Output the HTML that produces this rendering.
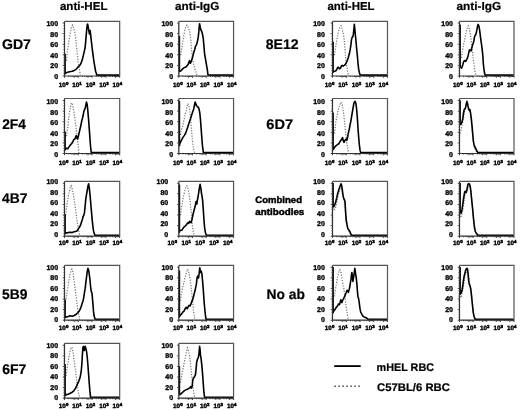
<!DOCTYPE html>
<html><head><meta charset="utf-8"><style>
html,body{margin:0;padding:0;background:#fff;}
svg{display:block;will-change:transform;}
text{font-family:'Liberation Sans',sans-serif;font-weight:bold;fill:#000;stroke:#000;stroke-width:0.2px;text-rendering:geometricPrecision;}
.yl{stroke-width:0.35px;}
.cb{stroke-width:0.45px;}
.yl{font-size:7px;text-anchor:end;}
.xl{font-size:6.3px;stroke-width:0.4px;}
.sup{font-size:4.4px;stroke-width:0.5px;}
</style></head><body>
<svg width="520" height="410" viewBox="0 0 520 410">
<rect width="520" height="410" fill="#fff"/>
<path d="M66.5,60.6 L67.4,51.0 L68.4,44.2 L69.5,37.4 L70.6,31.9 L71.5,27.1 L72.5,25.1 L73.6,27.8 L74.7,31.9 L75.6,37.4 L76.3,44.2 L77.0,51.0 L77.7,57.9 L78.3,63.3 L79.0,67.4 L79.7,71.5 L80.4,75.4 M180.7,55.1 L181.8,48.3 L182.8,41.5 L183.7,36.0 L184.8,30.6 L185.9,26.5 L186.9,25.1 L187.8,26.5 L188.9,29.2 L190.0,33.3 L190.7,38.8 L191.2,45.6 L191.7,51.0 L192.3,56.5 L193.0,62.0 L194.1,66.1 L195.1,70.2 L196.0,72.2 L197.1,75.4 M66.5,136.2 L67.4,129.4 L68.4,121.2 L69.2,114.4 L70.2,107.6 L71.1,103.5 L71.9,102.8 L72.9,106.2 L73.8,111.7 L74.7,117.1 L75.6,124.0 L76.3,129.4 L77.0,136.2 L77.7,141.7 L78.3,146.5 L79.0,152.9 M180.5,134.9 L181.4,130.1 L182.4,126.7 L183.5,121.9 L184.6,117.1 L185.5,113.0 L186.5,109.6 L187.3,105.5 L187.8,103.5 L188.7,104.8 L189.6,108.9 L190.3,115.8 L191.0,124.0 L191.7,132.1 L192.3,139.0 L193.0,145.1 L193.7,149.2 L194.7,152.9 M66.0,212.4 L67.0,204.2 L68.1,197.4 L69.2,191.9 L70.2,187.8 L71.1,185.8 L71.9,187.8 L72.9,191.9 L73.8,197.4 L74.7,202.8 L75.6,209.7 L76.3,215.1 L77.0,220.6 L77.7,224.7 L78.3,228.8 L79.0,232.2 L79.7,235.6 M180.5,215.1 L181.4,208.3 L182.4,202.8 L183.2,197.4 L184.2,193.3 L185.1,189.2 L186.2,186.5 L186.9,185.8 L187.8,187.8 L188.9,193.3 L190.0,200.1 L190.6,205.6 L191.2,212.4 L191.9,220.6 L192.6,227.4 L193.3,231.5 L194.1,235.6 M66.0,299.1 L67.0,292.3 L68.1,285.5 L69.2,278.7 L70.2,273.2 L71.1,270.5 L71.9,269.1 L72.9,271.8 L73.8,278.7 L74.7,285.5 L75.6,292.3 L76.3,297.8 L77.0,303.2 L77.7,308.7 L78.3,312.8 L79.0,316.2 L79.7,319.6 M180.5,300.5 L181.4,293.7 L182.8,286.8 L184.2,281.4 L185.5,275.9 L186.9,271.1 L187.8,269.1 L188.7,271.8 L189.6,275.9 L190.3,280.0 L191.0,285.5 L191.7,292.3 L192.3,299.1 L193.0,306.0 L193.7,312.1 L194.4,316.9 L195.1,319.6 M66.0,375.8 L67.0,368.9 L68.1,362.1 L69.2,355.3 L70.2,350.5 L71.1,347.8 L71.9,347.1 L72.9,351.2 L73.8,358.0 L74.7,364.8 L75.6,371.7 L76.3,377.1 L77.0,382.6 L77.7,388.1 L78.3,392.2 L79.0,394.9 L79.7,397.6 M180.5,382.6 L181.4,377.1 L182.4,371.7 L183.5,366.2 L184.6,360.8 L185.5,356.7 L186.5,351.2 L187.3,347.8 L188.2,349.8 L189.2,353.9 L190.0,359.4 L190.6,364.8 L191.2,370.3 L191.9,377.1 L192.6,384.0 L193.3,389.4 L194.0,394.2 L194.7,397.6 M334.5,55.1 L335.4,48.3 L336.4,42.8 L337.2,37.4 L338.1,33.3 L339.1,29.2 L340.2,26.5 L341.0,25.8 L341.8,27.8 L342.9,31.9 L344.0,37.4 L344.6,44.2 L345.1,51.0 L345.7,57.9 L346.3,63.3 L347.0,67.4 L347.7,71.5 L348.4,75.4 M461.5,57.9 L462.4,51.0 L463.4,45.6 L464.5,40.1 L465.6,34.7 L466.5,30.6 L467.5,27.1 L468.3,25.8 L469.2,28.5 L470.2,33.3 L471.0,38.8 L471.7,44.2 L472.4,51.0 L473.1,57.9 L473.8,63.3 L474.4,68.1 L475.1,71.5 L476.1,75.4 M334.5,133.5 L335.4,125.3 L336.4,118.5 L337.5,113.0 L338.6,108.9 L339.5,105.5 L340.5,103.5 L341.3,102.1 L342.2,104.2 L342.9,108.9 L343.6,113.0 L344.3,119.8 L345.0,126.7 L345.7,133.5 L346.3,139.0 L347.0,144.4 L347.7,148.5 L348.7,152.9 M460.1,133.5 L460.6,132.1 L461.5,128.1 L462.4,124.0 L463.4,118.5 L464.5,111.7 L465.6,106.9 L466.5,103.5 L467.2,102.8 L468.3,106.2 L469.2,110.3 L470.2,113.0 L471.0,118.5 L472.0,128.1 L472.7,136.2 L473.3,143.1 L474.0,146.5 L474.7,148.5 L475.7,150.6 L476.8,152.9 M333.1,208.3 L333.6,210.4 L334.5,209.7 L335.4,208.3 L336.4,204.2 L337.5,198.8 L338.6,194.0 L339.5,189.9 L340.5,187.2 L341.3,186.5 L342.2,190.6 L343.2,196.0 L344.0,200.1 L344.8,204.2 L345.4,211.1 L346.1,219.2 L346.8,224.7 L347.7,228.8 L348.7,230.9 L349.8,232.6 L350.9,235.6 M460.1,213.8 L460.6,216.5 L461.5,215.8 L462.4,212.4 L463.4,205.6 L464.2,200.1 L465.1,194.7 L466.1,193.3 L466.9,190.6 L467.9,187.2 L468.8,185.8 L469.9,186.5 L470.8,190.6 L471.6,197.4 L472.2,204.2 L472.9,212.4 L473.8,220.6 L474.4,227.4 L475.4,231.5 L476.5,233.6 L477.9,235.6 M334.5,296.4 L335.4,289.6 L336.4,284.1 L337.2,278.7 L338.1,274.6 L339.1,271.1 L339.9,269.8 L340.9,271.8 L341.8,277.3 L342.9,284.1 L344.0,289.6 L344.7,295.0 L345.4,300.5 L346.1,306.0 L346.8,311.4 L347.4,314.8 L348.4,319.6 M460.1,296.4 L460.6,297.8 L461.5,296.4 L462.4,292.3 L463.4,286.8 L464.2,281.4 L465.1,275.9 L466.1,272.5 L466.9,270.5 L467.7,271.1 L468.6,275.9 L469.4,281.4 L470.2,285.5 L471.0,289.6 L471.7,296.4 L472.4,303.2 L473.1,310.1 L473.8,314.2 L474.6,316.9 L475.7,319.6" fill="none" stroke="#707070" stroke-width="1.2" stroke-dasharray="1.2 1.5"/>
<path d="M65.1,53.8 L65.1,73.6 L65.1,73.6 L66.7,72.6 L69.5,71.8 L72.2,71.3 L74.2,70.4 L76.3,69.1 L77.7,67.4 L79.0,66.1 L80.4,64.4 L81.5,62.0 L82.4,59.2 L83.4,55.1 L84.5,50.4 L85.2,47.0 L85.8,40.1 L86.5,31.9 L87.2,25.1 L87.6,24.0 L88.3,27.1 L89.0,31.9 L89.5,34.0 L90.2,30.6 L90.9,37.4 L91.7,44.2 L92.7,52.4 L93.8,60.6 L94.7,66.1 L95.7,71.5 L96.8,75.1 L119.4,75.1 M179.4,36.0 L179.4,70.8 L179.4,70.8 L179.6,71.5 L181.0,70.8 L182.1,69.5 L183.5,68.1 L184.8,67.4 L186.2,66.8 L187.3,65.4 L188.2,64.4 L188.9,62.0 L189.6,60.6 L190.3,63.3 L191.0,62.0 L191.7,59.9 L192.8,56.5 L193.7,52.4 L194.7,49.7 L195.5,46.3 L196.4,44.9 L197.4,41.5 L198.2,37.4 L198.8,31.9 L199.2,26.5 L199.6,23.7 L200.3,27.8 L200.9,29.9 L201.9,31.9 L202.6,34.7 L203.3,38.8 L203.9,45.6 L204.6,53.8 L205.3,57.9 L206.0,62.0 L206.7,66.1 L207.4,70.2 L208.0,75.1 L233.3,75.1 M65.1,131.5 L65.1,149.9 L65.1,149.9 L65.6,148.8 L66.7,148.3 L67.8,148.8 L68.8,147.2 L70.2,145.1 L71.5,143.8 L72.9,141.7 L73.8,139.7 L74.9,139.0 L75.6,136.9 L76.3,135.6 L77.0,138.3 L77.7,139.0 L78.3,136.2 L79.3,132.1 L80.1,128.7 L80.9,125.3 L81.8,120.5 L82.4,118.5 L83.1,115.8 L83.8,111.7 L84.5,109.6 L85.2,108.2 L85.8,105.5 L86.5,102.1 L87.2,104.8 L87.9,111.7 L88.6,119.8 L89.3,129.4 L90.0,139.0 L90.6,147.2 L91.3,152.6 L119.4,152.6 M179.4,101.0 L179.4,145.8 L179.4,145.8 L180.0,143.1 L181.4,140.3 L182.8,137.6 L184.2,135.6 L185.5,133.5 L186.5,130.8 L187.6,127.4 L188.7,124.0 L189.6,121.2 L190.6,118.5 L191.4,115.8 L192.3,113.0 L193.0,111.0 L193.7,108.9 L194.4,105.5 L195.1,102.1 L195.8,103.5 L196.4,105.5 L197.1,106.2 L197.8,106.9 L198.5,107.6 L199.2,109.6 L199.8,113.0 L200.5,119.8 L201.2,129.4 L201.9,139.0 L202.6,147.2 L203.4,152.6 L233.3,152.6 M65.1,213.9 L65.1,233.6 L65.1,233.6 L66.0,232.9 L68.1,232.6 L70.2,232.2 L72.2,232.6 L74.2,231.8 L76.3,231.3 L77.7,230.2 L78.8,228.1 L79.7,226.8 L80.7,224.7 L81.5,222.0 L82.4,219.2 L83.1,216.5 L83.9,215.1 L84.5,212.4 L85.2,205.6 L85.8,198.8 L86.5,194.7 L87.2,190.6 L87.9,186.5 L88.6,183.7 L89.3,187.8 L90.0,194.7 L90.6,201.5 L91.3,209.7 L92.0,217.9 L92.7,224.7 L93.4,230.2 L94.0,232.9 L95.1,235.3 L119.4,235.3 M179.4,184.4 L179.4,232.2 L179.4,232.2 L179.4,230.9 L180.7,230.4 L182.1,229.9 L183.2,228.1 L184.2,226.8 L185.1,226.1 L185.9,225.4 L186.9,224.0 L187.8,222.7 L188.7,223.3 L189.6,221.3 L190.3,222.0 L191.0,222.7 L191.7,220.6 L192.3,217.9 L193.0,214.5 L193.7,211.7 L194.4,209.0 L195.1,206.3 L195.8,202.8 L196.2,201.5 L196.8,204.2 L197.4,200.1 L198.2,196.0 L198.8,191.9 L199.4,187.8 L200.1,184.4 L200.8,187.8 L201.5,193.3 L202.2,197.4 L202.6,200.1 L203.3,209.7 L203.9,219.2 L204.6,227.4 L205.3,232.2 L206.4,235.3 L233.3,235.3 M65.1,299.4 L65.1,317.6 L65.1,317.6 L66.0,316.9 L68.1,316.6 L70.2,315.8 L72.2,316.2 L74.2,315.5 L76.3,314.2 L77.7,312.8 L79.0,311.4 L80.1,309.4 L81.1,306.7 L82.0,303.9 L83.1,300.5 L83.8,297.1 L84.5,292.3 L85.2,288.2 L85.8,282.8 L86.5,277.3 L87.2,271.8 L87.9,268.4 L88.6,269.8 L89.3,274.6 L90.0,280.0 L90.6,286.8 L91.3,291.6 L92.0,293.0 L92.4,297.8 L93.0,304.6 L93.5,311.4 L94.0,315.5 L95.1,319.3 L119.4,319.3 M179.4,270.4 L179.4,316.9 L179.4,316.9 L180.0,315.5 L181.4,314.2 L182.8,312.1 L184.2,310.8 L185.1,308.7 L186.2,307.3 L187.3,308.7 L188.2,306.7 L189.2,305.3 L190.0,306.0 L190.7,304.6 L191.7,301.9 L192.8,299.1 L193.7,295.7 L194.4,293.0 L195.1,290.3 L195.8,286.8 L196.4,284.1 L196.8,280.0 L197.4,276.6 L198.1,275.9 L198.5,278.0 L199.2,273.2 L199.8,267.7 L200.5,272.5 L201.2,271.1 L201.9,273.9 L202.6,281.4 L203.3,289.6 L203.9,299.1 L204.6,307.3 L205.3,314.2 L206.0,319.3 L233.3,319.3 M65.1,364.0 L65.1,395.6 L65.1,395.6 L66.0,394.6 L68.1,394.2 L70.2,393.3 L72.2,392.2 L73.8,390.8 L75.2,388.8 L76.3,386.7 L77.2,384.7 L78.1,382.6 L79.0,380.6 L80.0,377.8 L80.7,374.4 L81.3,370.3 L81.8,364.8 L82.2,358.0 L82.6,351.2 L83.0,347.1 L83.5,346.4 L84.2,350.5 L84.8,347.1 L85.2,346.4 L85.8,348.5 L86.5,351.2 L87.2,356.7 L87.9,364.8 L88.6,374.4 L89.3,384.0 L90.0,392.2 L90.6,397.3 L119.4,397.3 M179.4,366.2 L179.4,393.5 L179.4,393.5 L180.0,394.6 L181.4,393.3 L182.8,392.2 L184.2,390.8 L185.5,390.1 L186.9,389.4 L188.2,388.8 L189.6,388.1 L190.6,386.7 L191.4,388.1 L192.1,386.7 L192.8,379.9 L193.7,377.8 L194.7,376.5 L195.5,374.4 L196.2,367.6 L196.7,362.1 L197.4,359.4 L198.1,358.0 L198.8,355.3 L199.2,351.2 L199.6,346.4 L200.1,349.8 L200.5,355.3 L201.2,359.4 L201.9,366.2 L202.6,374.4 L203.3,384.0 L203.9,392.2 L204.6,397.3 L233.3,397.3 M333.1,41.7 L333.1,72.2 L333.1,72.2 L333.6,71.5 L334.7,71.3 L335.8,70.8 L336.8,69.5 L337.7,67.4 L338.6,67.4 L339.5,68.8 L340.5,68.1 L341.3,66.1 L342.2,65.4 L343.2,66.1 L344.3,65.4 L345.4,64.4 L346.3,62.7 L347.3,60.6 L348.4,57.2 L349.3,53.8 L350.2,49.7 L350.9,44.9 L351.4,40.1 L352.1,37.4 L352.8,36.7 L353.3,34.7 L353.9,29.2 L354.3,24.4 L354.7,27.8 L355.2,33.3 L355.9,40.1 L356.6,48.3 L357.3,55.1 L357.9,62.0 L358.6,68.8 L359.3,72.2 L360.1,75.1 L387.2,75.1 M460.1,24.4 L460.1,66.8 L460.1,66.8 L460.6,67.4 L461.7,68.1 L462.8,64.7 L463.8,61.3 L464.7,60.6 L465.8,61.3 L466.5,59.9 L467.5,57.9 L468.3,55.1 L469.0,51.7 L469.6,49.7 L470.3,50.4 L471.0,51.0 L471.7,48.3 L472.4,45.6 L473.1,43.5 L473.8,41.5 L474.4,37.4 L475.1,35.3 L475.7,34.7 L476.3,32.6 L477.0,29.2 L477.6,25.8 L478.1,24.4 L478.8,25.8 L479.5,29.2 L480.2,34.7 L480.9,40.1 L481.5,44.2 L482.2,49.7 L482.9,56.5 L483.3,63.3 L483.9,68.8 L484.4,72.6 L485.2,75.1 L513.7,75.1 M333.1,112.5 L333.1,149.6 L333.1,149.6 L333.6,148.8 L334.7,147.2 L335.8,145.8 L336.8,145.1 L337.7,144.4 L338.8,143.8 L339.9,141.7 L340.9,140.3 L341.8,139.0 L342.6,137.6 L343.3,141.0 L344.0,142.4 L344.7,141.0 L345.4,139.7 L346.1,139.0 L346.8,140.3 L347.4,138.3 L348.1,134.2 L348.7,131.5 L349.5,128.1 L350.2,124.0 L350.9,121.2 L351.5,117.1 L352.2,113.0 L352.9,108.9 L353.6,104.8 L354.3,102.1 L355.2,101.4 L355.9,103.5 L356.6,108.9 L357.3,117.1 L357.9,126.7 L358.6,136.2 L359.3,144.4 L360.0,149.9 L360.7,152.6 L387.2,152.6 M460.1,100.5 L460.1,122.6 L460.1,122.6 L460.1,124.6 L461.1,124.0 L462.0,121.9 L462.8,118.5 L463.5,113.0 L464.2,109.6 L464.9,108.9 L465.6,107.6 L466.2,104.2 L466.9,101.4 L467.5,103.5 L468.0,106.2 L468.6,108.9 L469.2,110.3 L469.9,109.6 L470.6,113.0 L471.3,118.5 L472.0,125.3 L472.7,133.5 L473.3,140.3 L474.0,144.4 L474.7,146.5 L475.4,147.8 L476.1,149.2 L476.8,150.6 L477.9,152.6 L513.7,152.6 M333.1,182.9 L333.1,204.9 L333.1,204.9 L333.1,207.0 L334.1,206.3 L335.0,204.2 L335.8,201.5 L336.8,197.4 L337.7,193.3 L338.6,190.6 L339.5,187.8 L340.5,185.1 L341.0,183.7 L341.6,185.1 L342.2,189.2 L342.9,194.7 L343.6,198.1 L344.3,199.4 L345.0,201.5 L345.4,208.3 L345.8,215.1 L346.3,220.6 L347.0,224.7 L347.7,228.1 L348.4,229.5 L349.1,230.2 L349.8,231.5 L350.4,232.9 L351.4,235.3 L387.2,235.3 M460.1,182.9 L460.1,209.7 L460.1,209.7 L460.1,212.4 L461.1,213.1 L462.0,209.7 L462.8,204.2 L463.5,198.8 L464.2,194.7 L464.7,191.9 L465.4,191.2 L466.1,192.6 L466.8,190.6 L467.5,186.5 L468.0,184.4 L468.8,183.7 L469.6,184.4 L470.2,186.5 L470.8,190.6 L471.3,196.0 L472.0,202.8 L472.7,209.7 L473.3,216.5 L474.0,223.3 L474.7,228.8 L475.4,231.5 L476.5,233.6 L477.9,235.3 L513.7,235.3 M333.1,267.0 L333.1,312.8 L333.1,312.8 L333.4,311.4 L334.5,310.1 L335.4,308.7 L336.4,307.3 L337.5,306.0 L338.6,303.9 L339.5,304.6 L340.2,301.9 L340.9,299.8 L341.8,302.6 L342.6,300.5 L343.6,298.5 L344.3,297.1 L345.0,295.7 L345.7,293.7 L346.3,292.3 L347.0,290.3 L347.7,290.9 L348.4,292.3 L349.1,289.6 L349.8,286.8 L350.4,282.8 L351.1,278.7 L351.5,274.6 L351.9,272.5 L352.5,277.3 L352.9,281.4 L353.6,277.3 L354.3,272.5 L354.8,268.4 L355.5,273.2 L356.2,277.3 L356.9,284.1 L357.4,290.9 L357.9,296.4 L358.6,298.5 L359.3,303.2 L360.0,308.7 L360.7,312.1 L361.8,314.2 L362.7,315.8 L364.1,316.9 L366.1,317.7 L368.2,319.3 L387.2,319.3 M460.1,266.9 L460.1,292.3 L460.1,292.3 L460.1,294.4 L461.1,293.0 L462.0,290.3 L462.8,285.5 L463.5,280.0 L464.2,275.9 L464.9,273.2 L465.6,270.5 L466.2,269.1 L466.9,268.4 L467.5,269.1 L468.0,273.2 L468.6,280.0 L469.2,284.1 L469.9,285.5 L470.6,288.2 L471.3,293.7 L472.0,300.5 L472.7,307.3 L473.3,312.8 L474.0,316.2 L475.1,319.3 L513.7,319.3" fill="none" stroke="#000" stroke-width="1.6" stroke-linejoin="round"/>
<path d="M64.50,21.40 H119.70 V76.00 M178.85,21.40 H233.56 V76.00 M64.50,98.50 H119.70 V153.50 M178.85,98.50 H233.56 V153.50 M64.50,181.40 H119.70 V236.20 M178.85,181.40 H233.56 V236.20 M64.50,265.40 H119.70 V320.20 M178.85,265.40 H233.56 V320.20 M64.50,343.40 H119.70 V398.20 M178.85,343.40 H233.56 V398.20 M332.50,21.40 H387.50 V76.00 M459.50,21.40 H514.00 V76.00 M332.50,98.50 H387.50 V153.50 M459.50,98.50 H514.00 V153.50 M332.50,181.40 H387.50 V236.20 M459.50,181.40 H514.00 V236.20 M332.50,265.40 H387.50 V320.20 M459.50,265.40 H514.00 V320.20" fill="none" stroke="#555" stroke-width="1.2"/>
<path d="M64.50,21.40 V76.00 H119.70 M178.85,21.40 V76.00 H233.56 M64.50,98.50 V153.50 H119.70 M178.85,98.50 V153.50 H233.56 M64.50,181.40 V236.20 H119.70 M178.85,181.40 V236.20 H233.56 M64.50,265.40 V320.20 H119.70 M178.85,265.40 V320.20 H233.56 M64.50,343.40 V398.20 H119.70 M178.85,343.40 V398.20 H233.56 M332.50,21.40 V76.00 H387.50 M459.50,21.40 V76.00 H514.00 M332.50,98.50 V153.50 H387.50 M459.50,98.50 V153.50 H514.00 M332.50,181.40 V236.20 H387.50 M459.50,181.40 V236.20 H514.00 M332.50,265.40 V320.20 H387.50 M459.50,265.40 V320.20 H514.00" fill="none" stroke="#333" stroke-width="1.2"/>
<path d="M62.70,76.00 H64.50 M63.60,73.35 H64.50 M63.60,70.70 H64.50 M63.60,68.06 H64.50 M62.70,65.41 H64.50 M63.60,62.76 H64.50 M63.60,60.11 H64.50 M63.60,57.47 H64.50 M62.70,54.82 H64.50 M63.60,52.17 H64.50 M63.60,49.52 H64.50 M63.60,46.88 H64.50 M62.70,44.23 H64.50 M63.60,41.58 H64.50 M63.60,38.93 H64.50 M63.60,36.29 H64.50 M62.70,33.64 H64.50 M63.60,30.99 H64.50 M63.60,28.34 H64.50 M63.60,25.70 H64.50 M62.70,23.05 H64.50 M64.50,76.00 V77.80 M68.65,76.00 V77.00 M71.08,76.00 V77.00 M72.81,76.00 V77.00 M74.15,76.00 V77.80 M75.24,76.00 V77.00 M76.16,76.00 V77.00 M76.96,76.00 V77.00 M77.67,76.00 V77.00 M78.30,76.00 V77.80 M82.45,76.00 V77.00 M84.88,76.00 V77.00 M86.61,76.00 V77.00 M87.95,76.00 V77.80 M89.04,76.00 V77.00 M89.96,76.00 V77.00 M90.76,76.00 V77.00 M91.47,76.00 V77.00 M92.10,76.00 V77.80 M96.25,76.00 V77.00 M98.68,76.00 V77.00 M100.41,76.00 V77.00 M101.75,76.00 V77.80 M102.84,76.00 V77.00 M103.76,76.00 V77.00 M104.56,76.00 V77.00 M105.27,76.00 V77.00 M105.90,76.00 V77.80 M110.05,76.00 V77.00 M112.48,76.00 V77.00 M114.21,76.00 V77.00 M115.55,76.00 V77.80 M116.64,76.00 V77.00 M117.56,76.00 V77.00 M118.36,76.00 V77.00 M119.07,76.00 V77.00 M119.70,76.00 V77.80 M177.05,76.00 H178.85 M177.95,73.35 H178.85 M177.95,70.70 H178.85 M177.95,68.06 H178.85 M177.05,65.41 H178.85 M177.95,62.76 H178.85 M177.95,60.11 H178.85 M177.95,57.47 H178.85 M177.05,54.82 H178.85 M177.95,52.17 H178.85 M177.95,49.52 H178.85 M177.95,46.88 H178.85 M177.05,44.23 H178.85 M177.95,41.58 H178.85 M177.95,38.93 H178.85 M177.95,36.29 H178.85 M177.05,33.64 H178.85 M177.95,30.99 H178.85 M177.95,28.34 H178.85 M177.95,25.70 H178.85 M177.05,23.05 H178.85 M178.85,76.00 V77.80 M182.97,76.00 V77.00 M185.38,76.00 V77.00 M187.08,76.00 V77.00 M188.41,76.00 V77.80 M189.49,76.00 V77.00 M190.41,76.00 V77.00 M191.20,76.00 V77.00 M191.90,76.00 V77.00 M192.53,76.00 V77.80 M196.64,76.00 V77.00 M199.05,76.00 V77.00 M200.76,76.00 V77.00 M202.09,76.00 V77.80 M203.17,76.00 V77.00 M204.09,76.00 V77.00 M204.88,76.00 V77.00 M205.58,76.00 V77.00 M206.20,76.00 V77.80 M210.32,76.00 V77.00 M212.73,76.00 V77.00 M214.44,76.00 V77.00 M215.77,76.00 V77.80 M216.85,76.00 V77.00 M217.76,76.00 V77.00 M218.56,76.00 V77.00 M219.26,76.00 V77.00 M219.88,76.00 V77.80 M224.00,76.00 V77.00 M226.41,76.00 V77.00 M228.12,76.00 V77.00 M229.44,76.00 V77.80 M230.53,76.00 V77.00 M231.44,76.00 V77.00 M232.23,76.00 V77.00 M232.93,76.00 V77.00 M233.56,76.00 V77.80 M62.70,153.50 H64.50 M63.60,150.85 H64.50 M63.60,148.21 H64.50 M63.60,145.56 H64.50 M62.70,142.91 H64.50 M63.60,140.26 H64.50 M63.60,137.62 H64.50 M63.60,134.97 H64.50 M62.70,132.32 H64.50 M63.60,129.67 H64.50 M63.60,127.02 H64.50 M63.60,124.38 H64.50 M62.70,121.73 H64.50 M63.60,119.08 H64.50 M63.60,116.44 H64.50 M63.60,113.79 H64.50 M62.70,111.14 H64.50 M63.60,108.49 H64.50 M63.60,105.84 H64.50 M63.60,103.20 H64.50 M62.70,100.55 H64.50 M64.50,153.50 V155.30 M68.65,153.50 V154.50 M71.08,153.50 V154.50 M72.81,153.50 V154.50 M74.15,153.50 V155.30 M75.24,153.50 V154.50 M76.16,153.50 V154.50 M76.96,153.50 V154.50 M77.67,153.50 V154.50 M78.30,153.50 V155.30 M82.45,153.50 V154.50 M84.88,153.50 V154.50 M86.61,153.50 V154.50 M87.95,153.50 V155.30 M89.04,153.50 V154.50 M89.96,153.50 V154.50 M90.76,153.50 V154.50 M91.47,153.50 V154.50 M92.10,153.50 V155.30 M96.25,153.50 V154.50 M98.68,153.50 V154.50 M100.41,153.50 V154.50 M101.75,153.50 V155.30 M102.84,153.50 V154.50 M103.76,153.50 V154.50 M104.56,153.50 V154.50 M105.27,153.50 V154.50 M105.90,153.50 V155.30 M110.05,153.50 V154.50 M112.48,153.50 V154.50 M114.21,153.50 V154.50 M115.55,153.50 V155.30 M116.64,153.50 V154.50 M117.56,153.50 V154.50 M118.36,153.50 V154.50 M119.07,153.50 V154.50 M119.70,153.50 V155.30 M177.05,153.50 H178.85 M177.95,150.85 H178.85 M177.95,148.21 H178.85 M177.95,145.56 H178.85 M177.05,142.91 H178.85 M177.95,140.26 H178.85 M177.95,137.62 H178.85 M177.95,134.97 H178.85 M177.05,132.32 H178.85 M177.95,129.67 H178.85 M177.95,127.02 H178.85 M177.95,124.38 H178.85 M177.05,121.73 H178.85 M177.95,119.08 H178.85 M177.95,116.44 H178.85 M177.95,113.79 H178.85 M177.05,111.14 H178.85 M177.95,108.49 H178.85 M177.95,105.84 H178.85 M177.95,103.20 H178.85 M177.05,100.55 H178.85 M178.85,153.50 V155.30 M182.97,153.50 V154.50 M185.38,153.50 V154.50 M187.08,153.50 V154.50 M188.41,153.50 V155.30 M189.49,153.50 V154.50 M190.41,153.50 V154.50 M191.20,153.50 V154.50 M191.90,153.50 V154.50 M192.53,153.50 V155.30 M196.64,153.50 V154.50 M199.05,153.50 V154.50 M200.76,153.50 V154.50 M202.09,153.50 V155.30 M203.17,153.50 V154.50 M204.09,153.50 V154.50 M204.88,153.50 V154.50 M205.58,153.50 V154.50 M206.20,153.50 V155.30 M210.32,153.50 V154.50 M212.73,153.50 V154.50 M214.44,153.50 V154.50 M215.77,153.50 V155.30 M216.85,153.50 V154.50 M217.76,153.50 V154.50 M218.56,153.50 V154.50 M219.26,153.50 V154.50 M219.88,153.50 V155.30 M224.00,153.50 V154.50 M226.41,153.50 V154.50 M228.12,153.50 V154.50 M229.44,153.50 V155.30 M230.53,153.50 V154.50 M231.44,153.50 V154.50 M232.23,153.50 V154.50 M232.93,153.50 V154.50 M233.56,153.50 V155.30 M62.70,236.20 H64.50 M63.60,233.55 H64.50 M63.60,230.91 H64.50 M63.60,228.26 H64.50 M62.70,225.61 H64.50 M63.60,222.96 H64.50 M63.60,220.31 H64.50 M63.60,217.67 H64.50 M62.70,215.02 H64.50 M63.60,212.37 H64.50 M63.60,209.72 H64.50 M63.60,207.08 H64.50 M62.70,204.43 H64.50 M63.60,201.78 H64.50 M63.60,199.13 H64.50 M63.60,196.49 H64.50 M62.70,193.84 H64.50 M63.60,191.19 H64.50 M63.60,188.54 H64.50 M63.60,185.90 H64.50 M62.70,183.25 H64.50 M64.50,236.20 V238.00 M68.65,236.20 V237.20 M71.08,236.20 V237.20 M72.81,236.20 V237.20 M74.15,236.20 V238.00 M75.24,236.20 V237.20 M76.16,236.20 V237.20 M76.96,236.20 V237.20 M77.67,236.20 V237.20 M78.30,236.20 V238.00 M82.45,236.20 V237.20 M84.88,236.20 V237.20 M86.61,236.20 V237.20 M87.95,236.20 V238.00 M89.04,236.20 V237.20 M89.96,236.20 V237.20 M90.76,236.20 V237.20 M91.47,236.20 V237.20 M92.10,236.20 V238.00 M96.25,236.20 V237.20 M98.68,236.20 V237.20 M100.41,236.20 V237.20 M101.75,236.20 V238.00 M102.84,236.20 V237.20 M103.76,236.20 V237.20 M104.56,236.20 V237.20 M105.27,236.20 V237.20 M105.90,236.20 V238.00 M110.05,236.20 V237.20 M112.48,236.20 V237.20 M114.21,236.20 V237.20 M115.55,236.20 V238.00 M116.64,236.20 V237.20 M117.56,236.20 V237.20 M118.36,236.20 V237.20 M119.07,236.20 V237.20 M119.70,236.20 V238.00 M177.05,236.20 H178.85 M177.95,233.55 H178.85 M177.95,230.91 H178.85 M177.95,228.26 H178.85 M177.05,225.61 H178.85 M177.95,222.96 H178.85 M177.95,220.31 H178.85 M177.95,217.67 H178.85 M177.05,215.02 H178.85 M177.95,212.37 H178.85 M177.95,209.72 H178.85 M177.95,207.08 H178.85 M177.05,204.43 H178.85 M177.95,201.78 H178.85 M177.95,199.13 H178.85 M177.95,196.49 H178.85 M177.05,193.84 H178.85 M177.95,191.19 H178.85 M177.95,188.54 H178.85 M177.95,185.90 H178.85 M177.05,183.25 H178.85 M178.85,236.20 V238.00 M182.97,236.20 V237.20 M185.38,236.20 V237.20 M187.08,236.20 V237.20 M188.41,236.20 V238.00 M189.49,236.20 V237.20 M190.41,236.20 V237.20 M191.20,236.20 V237.20 M191.90,236.20 V237.20 M192.53,236.20 V238.00 M196.64,236.20 V237.20 M199.05,236.20 V237.20 M200.76,236.20 V237.20 M202.09,236.20 V238.00 M203.17,236.20 V237.20 M204.09,236.20 V237.20 M204.88,236.20 V237.20 M205.58,236.20 V237.20 M206.20,236.20 V238.00 M210.32,236.20 V237.20 M212.73,236.20 V237.20 M214.44,236.20 V237.20 M215.77,236.20 V238.00 M216.85,236.20 V237.20 M217.76,236.20 V237.20 M218.56,236.20 V237.20 M219.26,236.20 V237.20 M219.88,236.20 V238.00 M224.00,236.20 V237.20 M226.41,236.20 V237.20 M228.12,236.20 V237.20 M229.44,236.20 V238.00 M230.53,236.20 V237.20 M231.44,236.20 V237.20 M232.23,236.20 V237.20 M232.93,236.20 V237.20 M233.56,236.20 V238.00 M62.70,320.20 H64.50 M63.60,317.55 H64.50 M63.60,314.90 H64.50 M63.60,312.26 H64.50 M62.70,309.61 H64.50 M63.60,306.96 H64.50 M63.60,304.31 H64.50 M63.60,301.67 H64.50 M62.70,299.02 H64.50 M63.60,296.37 H64.50 M63.60,293.72 H64.50 M63.60,291.08 H64.50 M62.70,288.43 H64.50 M63.60,285.78 H64.50 M63.60,283.13 H64.50 M63.60,280.49 H64.50 M62.70,277.84 H64.50 M63.60,275.19 H64.50 M63.60,272.54 H64.50 M63.60,269.90 H64.50 M62.70,267.25 H64.50 M64.50,320.20 V322.00 M68.65,320.20 V321.20 M71.08,320.20 V321.20 M72.81,320.20 V321.20 M74.15,320.20 V322.00 M75.24,320.20 V321.20 M76.16,320.20 V321.20 M76.96,320.20 V321.20 M77.67,320.20 V321.20 M78.30,320.20 V322.00 M82.45,320.20 V321.20 M84.88,320.20 V321.20 M86.61,320.20 V321.20 M87.95,320.20 V322.00 M89.04,320.20 V321.20 M89.96,320.20 V321.20 M90.76,320.20 V321.20 M91.47,320.20 V321.20 M92.10,320.20 V322.00 M96.25,320.20 V321.20 M98.68,320.20 V321.20 M100.41,320.20 V321.20 M101.75,320.20 V322.00 M102.84,320.20 V321.20 M103.76,320.20 V321.20 M104.56,320.20 V321.20 M105.27,320.20 V321.20 M105.90,320.20 V322.00 M110.05,320.20 V321.20 M112.48,320.20 V321.20 M114.21,320.20 V321.20 M115.55,320.20 V322.00 M116.64,320.20 V321.20 M117.56,320.20 V321.20 M118.36,320.20 V321.20 M119.07,320.20 V321.20 M119.70,320.20 V322.00 M177.05,320.20 H178.85 M177.95,317.55 H178.85 M177.95,314.90 H178.85 M177.95,312.26 H178.85 M177.05,309.61 H178.85 M177.95,306.96 H178.85 M177.95,304.31 H178.85 M177.95,301.67 H178.85 M177.05,299.02 H178.85 M177.95,296.37 H178.85 M177.95,293.72 H178.85 M177.95,291.08 H178.85 M177.05,288.43 H178.85 M177.95,285.78 H178.85 M177.95,283.13 H178.85 M177.95,280.49 H178.85 M177.05,277.84 H178.85 M177.95,275.19 H178.85 M177.95,272.54 H178.85 M177.95,269.90 H178.85 M177.05,267.25 H178.85 M178.85,320.20 V322.00 M182.97,320.20 V321.20 M185.38,320.20 V321.20 M187.08,320.20 V321.20 M188.41,320.20 V322.00 M189.49,320.20 V321.20 M190.41,320.20 V321.20 M191.20,320.20 V321.20 M191.90,320.20 V321.20 M192.53,320.20 V322.00 M196.64,320.20 V321.20 M199.05,320.20 V321.20 M200.76,320.20 V321.20 M202.09,320.20 V322.00 M203.17,320.20 V321.20 M204.09,320.20 V321.20 M204.88,320.20 V321.20 M205.58,320.20 V321.20 M206.20,320.20 V322.00 M210.32,320.20 V321.20 M212.73,320.20 V321.20 M214.44,320.20 V321.20 M215.77,320.20 V322.00 M216.85,320.20 V321.20 M217.76,320.20 V321.20 M218.56,320.20 V321.20 M219.26,320.20 V321.20 M219.88,320.20 V322.00 M224.00,320.20 V321.20 M226.41,320.20 V321.20 M228.12,320.20 V321.20 M229.44,320.20 V322.00 M230.53,320.20 V321.20 M231.44,320.20 V321.20 M232.23,320.20 V321.20 M232.93,320.20 V321.20 M233.56,320.20 V322.00 M62.70,398.20 H64.50 M63.60,395.55 H64.50 M63.60,392.90 H64.50 M63.60,390.26 H64.50 M62.70,387.61 H64.50 M63.60,384.96 H64.50 M63.60,382.31 H64.50 M63.60,379.67 H64.50 M62.70,377.02 H64.50 M63.60,374.37 H64.50 M63.60,371.72 H64.50 M63.60,369.08 H64.50 M62.70,366.43 H64.50 M63.60,363.78 H64.50 M63.60,361.13 H64.50 M63.60,358.49 H64.50 M62.70,355.84 H64.50 M63.60,353.19 H64.50 M63.60,350.54 H64.50 M63.60,347.90 H64.50 M62.70,345.25 H64.50 M64.50,398.20 V400.00 M68.65,398.20 V399.20 M71.08,398.20 V399.20 M72.81,398.20 V399.20 M74.15,398.20 V400.00 M75.24,398.20 V399.20 M76.16,398.20 V399.20 M76.96,398.20 V399.20 M77.67,398.20 V399.20 M78.30,398.20 V400.00 M82.45,398.20 V399.20 M84.88,398.20 V399.20 M86.61,398.20 V399.20 M87.95,398.20 V400.00 M89.04,398.20 V399.20 M89.96,398.20 V399.20 M90.76,398.20 V399.20 M91.47,398.20 V399.20 M92.10,398.20 V400.00 M96.25,398.20 V399.20 M98.68,398.20 V399.20 M100.41,398.20 V399.20 M101.75,398.20 V400.00 M102.84,398.20 V399.20 M103.76,398.20 V399.20 M104.56,398.20 V399.20 M105.27,398.20 V399.20 M105.90,398.20 V400.00 M110.05,398.20 V399.20 M112.48,398.20 V399.20 M114.21,398.20 V399.20 M115.55,398.20 V400.00 M116.64,398.20 V399.20 M117.56,398.20 V399.20 M118.36,398.20 V399.20 M119.07,398.20 V399.20 M119.70,398.20 V400.00 M177.05,398.20 H178.85 M177.95,395.55 H178.85 M177.95,392.90 H178.85 M177.95,390.26 H178.85 M177.05,387.61 H178.85 M177.95,384.96 H178.85 M177.95,382.31 H178.85 M177.95,379.67 H178.85 M177.05,377.02 H178.85 M177.95,374.37 H178.85 M177.95,371.72 H178.85 M177.95,369.08 H178.85 M177.05,366.43 H178.85 M177.95,363.78 H178.85 M177.95,361.13 H178.85 M177.95,358.49 H178.85 M177.05,355.84 H178.85 M177.95,353.19 H178.85 M177.95,350.54 H178.85 M177.95,347.90 H178.85 M177.05,345.25 H178.85 M178.85,398.20 V400.00 M182.97,398.20 V399.20 M185.38,398.20 V399.20 M187.08,398.20 V399.20 M188.41,398.20 V400.00 M189.49,398.20 V399.20 M190.41,398.20 V399.20 M191.20,398.20 V399.20 M191.90,398.20 V399.20 M192.53,398.20 V400.00 M196.64,398.20 V399.20 M199.05,398.20 V399.20 M200.76,398.20 V399.20 M202.09,398.20 V400.00 M203.17,398.20 V399.20 M204.09,398.20 V399.20 M204.88,398.20 V399.20 M205.58,398.20 V399.20 M206.20,398.20 V400.00 M210.32,398.20 V399.20 M212.73,398.20 V399.20 M214.44,398.20 V399.20 M215.77,398.20 V400.00 M216.85,398.20 V399.20 M217.76,398.20 V399.20 M218.56,398.20 V399.20 M219.26,398.20 V399.20 M219.88,398.20 V400.00 M224.00,398.20 V399.20 M226.41,398.20 V399.20 M228.12,398.20 V399.20 M229.44,398.20 V400.00 M230.53,398.20 V399.20 M231.44,398.20 V399.20 M232.23,398.20 V399.20 M232.93,398.20 V399.20 M233.56,398.20 V400.00 M330.70,76.00 H332.50 M331.60,73.35 H332.50 M331.60,70.70 H332.50 M331.60,68.06 H332.50 M330.70,65.41 H332.50 M331.60,62.76 H332.50 M331.60,60.11 H332.50 M331.60,57.47 H332.50 M330.70,54.82 H332.50 M331.60,52.17 H332.50 M331.60,49.52 H332.50 M331.60,46.88 H332.50 M330.70,44.23 H332.50 M331.60,41.58 H332.50 M331.60,38.93 H332.50 M331.60,36.29 H332.50 M330.70,33.64 H332.50 M331.60,30.99 H332.50 M331.60,28.34 H332.50 M331.60,25.70 H332.50 M330.70,23.05 H332.50 M332.50,76.00 V77.80 M336.64,76.00 V77.00 M339.06,76.00 V77.00 M340.78,76.00 V77.00 M342.11,76.00 V77.80 M343.20,76.00 V77.00 M344.12,76.00 V77.00 M344.92,76.00 V77.00 M345.62,76.00 V77.00 M346.25,76.00 V77.80 M350.39,76.00 V77.00 M352.81,76.00 V77.00 M354.53,76.00 V77.00 M355.86,76.00 V77.80 M356.95,76.00 V77.00 M357.87,76.00 V77.00 M358.67,76.00 V77.00 M359.37,76.00 V77.00 M360.00,76.00 V77.80 M364.14,76.00 V77.00 M366.56,76.00 V77.00 M368.28,76.00 V77.00 M369.61,76.00 V77.80 M370.70,76.00 V77.00 M371.62,76.00 V77.00 M372.42,76.00 V77.00 M373.12,76.00 V77.00 M373.75,76.00 V77.80 M377.89,76.00 V77.00 M380.31,76.00 V77.00 M382.03,76.00 V77.00 M383.36,76.00 V77.80 M384.45,76.00 V77.00 M385.37,76.00 V77.00 M386.17,76.00 V77.00 M386.87,76.00 V77.00 M387.50,76.00 V77.80 M457.70,76.00 H459.50 M458.60,73.35 H459.50 M458.60,70.70 H459.50 M458.60,68.06 H459.50 M457.70,65.41 H459.50 M458.60,62.76 H459.50 M458.60,60.11 H459.50 M458.60,57.47 H459.50 M457.70,54.82 H459.50 M458.60,52.17 H459.50 M458.60,49.52 H459.50 M458.60,46.88 H459.50 M457.70,44.23 H459.50 M458.60,41.58 H459.50 M458.60,38.93 H459.50 M458.60,36.29 H459.50 M457.70,33.64 H459.50 M458.60,30.99 H459.50 M458.60,28.34 H459.50 M458.60,25.70 H459.50 M457.70,23.05 H459.50 M459.50,76.00 V77.80 M463.60,76.00 V77.00 M466.00,76.00 V77.00 M467.70,76.00 V77.00 M469.02,76.00 V77.80 M470.10,76.00 V77.00 M471.01,76.00 V77.00 M471.80,76.00 V77.00 M472.50,76.00 V77.00 M473.12,76.00 V77.80 M477.23,76.00 V77.00 M479.63,76.00 V77.00 M481.33,76.00 V77.00 M482.65,76.00 V77.80 M483.73,76.00 V77.00 M484.64,76.00 V77.00 M485.43,76.00 V77.00 M486.13,76.00 V77.00 M486.75,76.00 V77.80 M490.85,76.00 V77.00 M493.25,76.00 V77.00 M494.95,76.00 V77.00 M496.27,76.00 V77.80 M497.35,76.00 V77.00 M498.26,76.00 V77.00 M499.05,76.00 V77.00 M499.75,76.00 V77.00 M500.38,76.00 V77.80 M504.48,76.00 V77.00 M506.88,76.00 V77.00 M508.58,76.00 V77.00 M509.90,76.00 V77.80 M510.98,76.00 V77.00 M511.89,76.00 V77.00 M512.68,76.00 V77.00 M513.38,76.00 V77.00 M514.00,76.00 V77.80 M330.70,153.50 H332.50 M331.60,150.85 H332.50 M331.60,148.21 H332.50 M331.60,145.56 H332.50 M330.70,142.91 H332.50 M331.60,140.26 H332.50 M331.60,137.62 H332.50 M331.60,134.97 H332.50 M330.70,132.32 H332.50 M331.60,129.67 H332.50 M331.60,127.02 H332.50 M331.60,124.38 H332.50 M330.70,121.73 H332.50 M331.60,119.08 H332.50 M331.60,116.44 H332.50 M331.60,113.79 H332.50 M330.70,111.14 H332.50 M331.60,108.49 H332.50 M331.60,105.84 H332.50 M331.60,103.20 H332.50 M330.70,100.55 H332.50 M332.50,153.50 V155.30 M336.64,153.50 V154.50 M339.06,153.50 V154.50 M340.78,153.50 V154.50 M342.11,153.50 V155.30 M343.20,153.50 V154.50 M344.12,153.50 V154.50 M344.92,153.50 V154.50 M345.62,153.50 V154.50 M346.25,153.50 V155.30 M350.39,153.50 V154.50 M352.81,153.50 V154.50 M354.53,153.50 V154.50 M355.86,153.50 V155.30 M356.95,153.50 V154.50 M357.87,153.50 V154.50 M358.67,153.50 V154.50 M359.37,153.50 V154.50 M360.00,153.50 V155.30 M364.14,153.50 V154.50 M366.56,153.50 V154.50 M368.28,153.50 V154.50 M369.61,153.50 V155.30 M370.70,153.50 V154.50 M371.62,153.50 V154.50 M372.42,153.50 V154.50 M373.12,153.50 V154.50 M373.75,153.50 V155.30 M377.89,153.50 V154.50 M380.31,153.50 V154.50 M382.03,153.50 V154.50 M383.36,153.50 V155.30 M384.45,153.50 V154.50 M385.37,153.50 V154.50 M386.17,153.50 V154.50 M386.87,153.50 V154.50 M387.50,153.50 V155.30 M457.70,153.50 H459.50 M458.60,150.85 H459.50 M458.60,148.21 H459.50 M458.60,145.56 H459.50 M457.70,142.91 H459.50 M458.60,140.26 H459.50 M458.60,137.62 H459.50 M458.60,134.97 H459.50 M457.70,132.32 H459.50 M458.60,129.67 H459.50 M458.60,127.02 H459.50 M458.60,124.38 H459.50 M457.70,121.73 H459.50 M458.60,119.08 H459.50 M458.60,116.44 H459.50 M458.60,113.79 H459.50 M457.70,111.14 H459.50 M458.60,108.49 H459.50 M458.60,105.84 H459.50 M458.60,103.20 H459.50 M457.70,100.55 H459.50 M459.50,153.50 V155.30 M463.60,153.50 V154.50 M466.00,153.50 V154.50 M467.70,153.50 V154.50 M469.02,153.50 V155.30 M470.10,153.50 V154.50 M471.01,153.50 V154.50 M471.80,153.50 V154.50 M472.50,153.50 V154.50 M473.12,153.50 V155.30 M477.23,153.50 V154.50 M479.63,153.50 V154.50 M481.33,153.50 V154.50 M482.65,153.50 V155.30 M483.73,153.50 V154.50 M484.64,153.50 V154.50 M485.43,153.50 V154.50 M486.13,153.50 V154.50 M486.75,153.50 V155.30 M490.85,153.50 V154.50 M493.25,153.50 V154.50 M494.95,153.50 V154.50 M496.27,153.50 V155.30 M497.35,153.50 V154.50 M498.26,153.50 V154.50 M499.05,153.50 V154.50 M499.75,153.50 V154.50 M500.38,153.50 V155.30 M504.48,153.50 V154.50 M506.88,153.50 V154.50 M508.58,153.50 V154.50 M509.90,153.50 V155.30 M510.98,153.50 V154.50 M511.89,153.50 V154.50 M512.68,153.50 V154.50 M513.38,153.50 V154.50 M514.00,153.50 V155.30 M330.70,236.20 H332.50 M331.60,233.55 H332.50 M331.60,230.91 H332.50 M331.60,228.26 H332.50 M330.70,225.61 H332.50 M331.60,222.96 H332.50 M331.60,220.31 H332.50 M331.60,217.67 H332.50 M330.70,215.02 H332.50 M331.60,212.37 H332.50 M331.60,209.72 H332.50 M331.60,207.08 H332.50 M330.70,204.43 H332.50 M331.60,201.78 H332.50 M331.60,199.13 H332.50 M331.60,196.49 H332.50 M330.70,193.84 H332.50 M331.60,191.19 H332.50 M331.60,188.54 H332.50 M331.60,185.90 H332.50 M330.70,183.25 H332.50 M332.50,236.20 V238.00 M336.64,236.20 V237.20 M339.06,236.20 V237.20 M340.78,236.20 V237.20 M342.11,236.20 V238.00 M343.20,236.20 V237.20 M344.12,236.20 V237.20 M344.92,236.20 V237.20 M345.62,236.20 V237.20 M346.25,236.20 V238.00 M350.39,236.20 V237.20 M352.81,236.20 V237.20 M354.53,236.20 V237.20 M355.86,236.20 V238.00 M356.95,236.20 V237.20 M357.87,236.20 V237.20 M358.67,236.20 V237.20 M359.37,236.20 V237.20 M360.00,236.20 V238.00 M364.14,236.20 V237.20 M366.56,236.20 V237.20 M368.28,236.20 V237.20 M369.61,236.20 V238.00 M370.70,236.20 V237.20 M371.62,236.20 V237.20 M372.42,236.20 V237.20 M373.12,236.20 V237.20 M373.75,236.20 V238.00 M377.89,236.20 V237.20 M380.31,236.20 V237.20 M382.03,236.20 V237.20 M383.36,236.20 V238.00 M384.45,236.20 V237.20 M385.37,236.20 V237.20 M386.17,236.20 V237.20 M386.87,236.20 V237.20 M387.50,236.20 V238.00 M457.70,236.20 H459.50 M458.60,233.55 H459.50 M458.60,230.91 H459.50 M458.60,228.26 H459.50 M457.70,225.61 H459.50 M458.60,222.96 H459.50 M458.60,220.31 H459.50 M458.60,217.67 H459.50 M457.70,215.02 H459.50 M458.60,212.37 H459.50 M458.60,209.72 H459.50 M458.60,207.08 H459.50 M457.70,204.43 H459.50 M458.60,201.78 H459.50 M458.60,199.13 H459.50 M458.60,196.49 H459.50 M457.70,193.84 H459.50 M458.60,191.19 H459.50 M458.60,188.54 H459.50 M458.60,185.90 H459.50 M457.70,183.25 H459.50 M459.50,236.20 V238.00 M463.60,236.20 V237.20 M466.00,236.20 V237.20 M467.70,236.20 V237.20 M469.02,236.20 V238.00 M470.10,236.20 V237.20 M471.01,236.20 V237.20 M471.80,236.20 V237.20 M472.50,236.20 V237.20 M473.12,236.20 V238.00 M477.23,236.20 V237.20 M479.63,236.20 V237.20 M481.33,236.20 V237.20 M482.65,236.20 V238.00 M483.73,236.20 V237.20 M484.64,236.20 V237.20 M485.43,236.20 V237.20 M486.13,236.20 V237.20 M486.75,236.20 V238.00 M490.85,236.20 V237.20 M493.25,236.20 V237.20 M494.95,236.20 V237.20 M496.27,236.20 V238.00 M497.35,236.20 V237.20 M498.26,236.20 V237.20 M499.05,236.20 V237.20 M499.75,236.20 V237.20 M500.38,236.20 V238.00 M504.48,236.20 V237.20 M506.88,236.20 V237.20 M508.58,236.20 V237.20 M509.90,236.20 V238.00 M510.98,236.20 V237.20 M511.89,236.20 V237.20 M512.68,236.20 V237.20 M513.38,236.20 V237.20 M514.00,236.20 V238.00 M330.70,320.20 H332.50 M331.60,317.55 H332.50 M331.60,314.90 H332.50 M331.60,312.26 H332.50 M330.70,309.61 H332.50 M331.60,306.96 H332.50 M331.60,304.31 H332.50 M331.60,301.67 H332.50 M330.70,299.02 H332.50 M331.60,296.37 H332.50 M331.60,293.72 H332.50 M331.60,291.08 H332.50 M330.70,288.43 H332.50 M331.60,285.78 H332.50 M331.60,283.13 H332.50 M331.60,280.49 H332.50 M330.70,277.84 H332.50 M331.60,275.19 H332.50 M331.60,272.54 H332.50 M331.60,269.90 H332.50 M330.70,267.25 H332.50 M332.50,320.20 V322.00 M336.64,320.20 V321.20 M339.06,320.20 V321.20 M340.78,320.20 V321.20 M342.11,320.20 V322.00 M343.20,320.20 V321.20 M344.12,320.20 V321.20 M344.92,320.20 V321.20 M345.62,320.20 V321.20 M346.25,320.20 V322.00 M350.39,320.20 V321.20 M352.81,320.20 V321.20 M354.53,320.20 V321.20 M355.86,320.20 V322.00 M356.95,320.20 V321.20 M357.87,320.20 V321.20 M358.67,320.20 V321.20 M359.37,320.20 V321.20 M360.00,320.20 V322.00 M364.14,320.20 V321.20 M366.56,320.20 V321.20 M368.28,320.20 V321.20 M369.61,320.20 V322.00 M370.70,320.20 V321.20 M371.62,320.20 V321.20 M372.42,320.20 V321.20 M373.12,320.20 V321.20 M373.75,320.20 V322.00 M377.89,320.20 V321.20 M380.31,320.20 V321.20 M382.03,320.20 V321.20 M383.36,320.20 V322.00 M384.45,320.20 V321.20 M385.37,320.20 V321.20 M386.17,320.20 V321.20 M386.87,320.20 V321.20 M387.50,320.20 V322.00 M457.70,320.20 H459.50 M458.60,317.55 H459.50 M458.60,314.90 H459.50 M458.60,312.26 H459.50 M457.70,309.61 H459.50 M458.60,306.96 H459.50 M458.60,304.31 H459.50 M458.60,301.67 H459.50 M457.70,299.02 H459.50 M458.60,296.37 H459.50 M458.60,293.72 H459.50 M458.60,291.08 H459.50 M457.70,288.43 H459.50 M458.60,285.78 H459.50 M458.60,283.13 H459.50 M458.60,280.49 H459.50 M457.70,277.84 H459.50 M458.60,275.19 H459.50 M458.60,272.54 H459.50 M458.60,269.90 H459.50 M457.70,267.25 H459.50 M459.50,320.20 V322.00 M463.60,320.20 V321.20 M466.00,320.20 V321.20 M467.70,320.20 V321.20 M469.02,320.20 V322.00 M470.10,320.20 V321.20 M471.01,320.20 V321.20 M471.80,320.20 V321.20 M472.50,320.20 V321.20 M473.12,320.20 V322.00 M477.23,320.20 V321.20 M479.63,320.20 V321.20 M481.33,320.20 V321.20 M482.65,320.20 V322.00 M483.73,320.20 V321.20 M484.64,320.20 V321.20 M485.43,320.20 V321.20 M486.13,320.20 V321.20 M486.75,320.20 V322.00 M490.85,320.20 V321.20 M493.25,320.20 V321.20 M494.95,320.20 V321.20 M496.27,320.20 V322.00 M497.35,320.20 V321.20 M498.26,320.20 V321.20 M499.05,320.20 V321.20 M499.75,320.20 V321.20 M500.38,320.20 V322.00 M504.48,320.20 V321.20 M506.88,320.20 V321.20 M508.58,320.20 V321.20 M509.90,320.20 V322.00 M510.98,320.20 V321.20 M511.89,320.20 V321.20 M512.68,320.20 V321.20 M513.38,320.20 V321.20 M514.00,320.20 V322.00" fill="none" stroke="#333" stroke-width="0.9"/>
<text x="58.15" y="78.70" class="yl">0</text>
<text x="58.15" y="68.15" class="yl">20</text>
<text x="58.15" y="57.60" class="yl">40</text>
<text x="58.15" y="47.05" class="yl">60</text>
<text x="58.15" y="36.50" class="yl">80</text>
<text x="58.15" y="25.95" class="yl">100</text>
<text x="58.80" y="86.65" class="xl">10<tspan class="sup" dx="0.1" dy="-1.7">0</tspan></text>
<text x="72.25" y="86.65" class="xl">10<tspan class="sup" dx="0.1" dy="-1.7">1</tspan></text>
<text x="85.70" y="86.65" class="xl">10<tspan class="sup" dx="0.1" dy="-1.7">2</tspan></text>
<text x="99.15" y="86.65" class="xl">10<tspan class="sup" dx="0.1" dy="-1.7">3</tspan></text>
<text x="112.60" y="86.65" class="xl">10<tspan class="sup" dx="0.1" dy="-1.7">4</tspan></text>
<text x="173.15" y="78.70" class="yl">0</text>
<text x="173.15" y="68.15" class="yl">20</text>
<text x="173.15" y="57.60" class="yl">40</text>
<text x="173.15" y="47.05" class="yl">60</text>
<text x="173.15" y="36.50" class="yl">80</text>
<text x="173.15" y="25.95" class="yl">100</text>
<text x="173.10" y="86.65" class="xl">10<tspan class="sup" dx="0.1" dy="-1.7">0</tspan></text>
<text x="186.55" y="86.65" class="xl">10<tspan class="sup" dx="0.1" dy="-1.7">1</tspan></text>
<text x="200.00" y="86.65" class="xl">10<tspan class="sup" dx="0.1" dy="-1.7">2</tspan></text>
<text x="213.45" y="86.65" class="xl">10<tspan class="sup" dx="0.1" dy="-1.7">3</tspan></text>
<text x="226.90" y="86.65" class="xl">10<tspan class="sup" dx="0.1" dy="-1.7">4</tspan></text>
<text x="58.15" y="156.75" class="yl">0</text>
<text x="58.15" y="146.20" class="yl">20</text>
<text x="58.15" y="135.65" class="yl">40</text>
<text x="58.15" y="125.10" class="yl">60</text>
<text x="58.15" y="114.55" class="yl">80</text>
<text x="58.15" y="104.00" class="yl">100</text>
<text x="58.80" y="164.60" class="xl">10<tspan class="sup" dx="0.1" dy="-1.7">0</tspan></text>
<text x="72.25" y="164.60" class="xl">10<tspan class="sup" dx="0.1" dy="-1.7">1</tspan></text>
<text x="85.70" y="164.60" class="xl">10<tspan class="sup" dx="0.1" dy="-1.7">2</tspan></text>
<text x="99.15" y="164.60" class="xl">10<tspan class="sup" dx="0.1" dy="-1.7">3</tspan></text>
<text x="112.60" y="164.60" class="xl">10<tspan class="sup" dx="0.1" dy="-1.7">4</tspan></text>
<text x="173.15" y="156.75" class="yl">0</text>
<text x="173.15" y="146.20" class="yl">20</text>
<text x="173.15" y="135.65" class="yl">40</text>
<text x="173.15" y="125.10" class="yl">60</text>
<text x="173.15" y="114.55" class="yl">80</text>
<text x="173.15" y="104.00" class="yl">100</text>
<text x="173.10" y="164.60" class="xl">10<tspan class="sup" dx="0.1" dy="-1.7">0</tspan></text>
<text x="186.55" y="164.60" class="xl">10<tspan class="sup" dx="0.1" dy="-1.7">1</tspan></text>
<text x="200.00" y="164.60" class="xl">10<tspan class="sup" dx="0.1" dy="-1.7">2</tspan></text>
<text x="213.45" y="164.60" class="xl">10<tspan class="sup" dx="0.1" dy="-1.7">3</tspan></text>
<text x="226.90" y="164.60" class="xl">10<tspan class="sup" dx="0.1" dy="-1.7">4</tspan></text>
<text x="58.15" y="236.75" class="yl">0</text>
<text x="58.15" y="226.20" class="yl">20</text>
<text x="58.15" y="215.65" class="yl">40</text>
<text x="58.15" y="205.10" class="yl">60</text>
<text x="58.15" y="194.55" class="yl">80</text>
<text x="58.15" y="184.00" class="yl">100</text>
<text x="58.80" y="244.60" class="xl">10<tspan class="sup" dx="0.1" dy="-1.7">0</tspan></text>
<text x="72.25" y="244.60" class="xl">10<tspan class="sup" dx="0.1" dy="-1.7">1</tspan></text>
<text x="85.70" y="244.60" class="xl">10<tspan class="sup" dx="0.1" dy="-1.7">2</tspan></text>
<text x="99.15" y="244.60" class="xl">10<tspan class="sup" dx="0.1" dy="-1.7">3</tspan></text>
<text x="112.60" y="244.60" class="xl">10<tspan class="sup" dx="0.1" dy="-1.7">4</tspan></text>
<text x="168.25" y="236.75" class="yl">0</text>
<text x="168.25" y="226.20" class="yl">20</text>
<text x="168.25" y="215.65" class="yl">40</text>
<text x="168.25" y="205.10" class="yl">60</text>
<text x="168.25" y="194.55" class="yl">80</text>
<text x="168.25" y="184.00" class="yl">100</text>
<text x="167.60" y="244.60" class="xl">10<tspan class="sup" dx="0.1" dy="-1.7">0</tspan></text>
<text x="181.45" y="244.60" class="xl">10<tspan class="sup" dx="0.1" dy="-1.7">1</tspan></text>
<text x="195.30" y="244.60" class="xl">10<tspan class="sup" dx="0.1" dy="-1.7">2</tspan></text>
<text x="209.15" y="244.60" class="xl">10<tspan class="sup" dx="0.1" dy="-1.7">3</tspan></text>
<text x="223.00" y="244.60" class="xl">10<tspan class="sup" dx="0.1" dy="-1.7">4</tspan></text>
<text x="58.15" y="322.25" class="yl">0</text>
<text x="58.15" y="311.70" class="yl">20</text>
<text x="58.15" y="301.15" class="yl">40</text>
<text x="58.15" y="290.60" class="yl">60</text>
<text x="58.15" y="280.05" class="yl">80</text>
<text x="58.15" y="269.50" class="yl">100</text>
<text x="58.80" y="330.10" class="xl">10<tspan class="sup" dx="0.1" dy="-1.7">0</tspan></text>
<text x="72.25" y="330.10" class="xl">10<tspan class="sup" dx="0.1" dy="-1.7">1</tspan></text>
<text x="85.70" y="330.10" class="xl">10<tspan class="sup" dx="0.1" dy="-1.7">2</tspan></text>
<text x="99.15" y="330.10" class="xl">10<tspan class="sup" dx="0.1" dy="-1.7">3</tspan></text>
<text x="112.60" y="330.10" class="xl">10<tspan class="sup" dx="0.1" dy="-1.7">4</tspan></text>
<text x="173.15" y="322.25" class="yl">0</text>
<text x="173.15" y="311.70" class="yl">20</text>
<text x="173.15" y="301.15" class="yl">40</text>
<text x="173.15" y="290.60" class="yl">60</text>
<text x="173.15" y="280.05" class="yl">80</text>
<text x="173.15" y="269.50" class="yl">100</text>
<text x="173.10" y="330.10" class="xl">10<tspan class="sup" dx="0.1" dy="-1.7">0</tspan></text>
<text x="186.55" y="330.10" class="xl">10<tspan class="sup" dx="0.1" dy="-1.7">1</tspan></text>
<text x="200.00" y="330.10" class="xl">10<tspan class="sup" dx="0.1" dy="-1.7">2</tspan></text>
<text x="213.45" y="330.10" class="xl">10<tspan class="sup" dx="0.1" dy="-1.7">3</tspan></text>
<text x="226.90" y="330.10" class="xl">10<tspan class="sup" dx="0.1" dy="-1.7">4</tspan></text>
<text x="58.15" y="400.25" class="yl">0</text>
<text x="58.15" y="389.70" class="yl">20</text>
<text x="58.15" y="379.15" class="yl">40</text>
<text x="58.15" y="368.60" class="yl">60</text>
<text x="58.15" y="358.05" class="yl">80</text>
<text x="58.15" y="347.50" class="yl">100</text>
<text x="58.80" y="407.90" class="xl">10<tspan class="sup" dx="0.1" dy="-1.7">0</tspan></text>
<text x="72.25" y="407.90" class="xl">10<tspan class="sup" dx="0.1" dy="-1.7">1</tspan></text>
<text x="85.70" y="407.90" class="xl">10<tspan class="sup" dx="0.1" dy="-1.7">2</tspan></text>
<text x="99.15" y="407.90" class="xl">10<tspan class="sup" dx="0.1" dy="-1.7">3</tspan></text>
<text x="112.60" y="407.90" class="xl">10<tspan class="sup" dx="0.1" dy="-1.7">4</tspan></text>
<text x="173.15" y="400.25" class="yl">0</text>
<text x="173.15" y="389.70" class="yl">20</text>
<text x="173.15" y="379.15" class="yl">40</text>
<text x="173.15" y="368.60" class="yl">60</text>
<text x="173.15" y="358.05" class="yl">80</text>
<text x="173.15" y="347.50" class="yl">100</text>
<text x="173.10" y="407.90" class="xl">10<tspan class="sup" dx="0.1" dy="-1.7">0</tspan></text>
<text x="186.55" y="407.90" class="xl">10<tspan class="sup" dx="0.1" dy="-1.7">1</tspan></text>
<text x="200.00" y="407.90" class="xl">10<tspan class="sup" dx="0.1" dy="-1.7">2</tspan></text>
<text x="213.45" y="407.90" class="xl">10<tspan class="sup" dx="0.1" dy="-1.7">3</tspan></text>
<text x="226.90" y="407.90" class="xl">10<tspan class="sup" dx="0.1" dy="-1.7">4</tspan></text>
<text x="324.85" y="78.70" class="yl">0</text>
<text x="324.85" y="68.15" class="yl">20</text>
<text x="324.85" y="57.60" class="yl">40</text>
<text x="324.85" y="47.05" class="yl">60</text>
<text x="324.85" y="36.50" class="yl">80</text>
<text x="324.85" y="25.95" class="yl">100</text>
<text x="324.80" y="86.65" class="xl">10<tspan class="sup" dx="0.1" dy="-1.7">0</tspan></text>
<text x="338.25" y="86.65" class="xl">10<tspan class="sup" dx="0.1" dy="-1.7">1</tspan></text>
<text x="351.70" y="86.65" class="xl">10<tspan class="sup" dx="0.1" dy="-1.7">2</tspan></text>
<text x="365.15" y="86.65" class="xl">10<tspan class="sup" dx="0.1" dy="-1.7">3</tspan></text>
<text x="378.60" y="86.65" class="xl">10<tspan class="sup" dx="0.1" dy="-1.7">4</tspan></text>
<text x="452.95" y="78.70" class="yl">0</text>
<text x="452.95" y="68.15" class="yl">20</text>
<text x="452.95" y="57.60" class="yl">40</text>
<text x="452.95" y="47.05" class="yl">60</text>
<text x="452.95" y="36.50" class="yl">80</text>
<text x="452.95" y="25.95" class="yl">100</text>
<text x="453.10" y="86.65" class="xl">10<tspan class="sup" dx="0.1" dy="-1.7">0</tspan></text>
<text x="466.55" y="86.65" class="xl">10<tspan class="sup" dx="0.1" dy="-1.7">1</tspan></text>
<text x="480.00" y="86.65" class="xl">10<tspan class="sup" dx="0.1" dy="-1.7">2</tspan></text>
<text x="493.45" y="86.65" class="xl">10<tspan class="sup" dx="0.1" dy="-1.7">3</tspan></text>
<text x="506.90" y="86.65" class="xl">10<tspan class="sup" dx="0.1" dy="-1.7">4</tspan></text>
<text x="324.85" y="156.75" class="yl">0</text>
<text x="324.85" y="146.20" class="yl">20</text>
<text x="324.85" y="135.65" class="yl">40</text>
<text x="324.85" y="125.10" class="yl">60</text>
<text x="324.85" y="114.55" class="yl">80</text>
<text x="324.85" y="104.00" class="yl">100</text>
<text x="324.80" y="164.60" class="xl">10<tspan class="sup" dx="0.1" dy="-1.7">0</tspan></text>
<text x="338.25" y="164.60" class="xl">10<tspan class="sup" dx="0.1" dy="-1.7">1</tspan></text>
<text x="351.70" y="164.60" class="xl">10<tspan class="sup" dx="0.1" dy="-1.7">2</tspan></text>
<text x="365.15" y="164.60" class="xl">10<tspan class="sup" dx="0.1" dy="-1.7">3</tspan></text>
<text x="378.60" y="164.60" class="xl">10<tspan class="sup" dx="0.1" dy="-1.7">4</tspan></text>
<text x="452.95" y="156.75" class="yl">0</text>
<text x="452.95" y="146.20" class="yl">20</text>
<text x="452.95" y="135.65" class="yl">40</text>
<text x="452.95" y="125.10" class="yl">60</text>
<text x="452.95" y="114.55" class="yl">80</text>
<text x="452.95" y="104.00" class="yl">100</text>
<text x="453.10" y="164.60" class="xl">10<tspan class="sup" dx="0.1" dy="-1.7">0</tspan></text>
<text x="466.55" y="164.60" class="xl">10<tspan class="sup" dx="0.1" dy="-1.7">1</tspan></text>
<text x="480.00" y="164.60" class="xl">10<tspan class="sup" dx="0.1" dy="-1.7">2</tspan></text>
<text x="493.45" y="164.60" class="xl">10<tspan class="sup" dx="0.1" dy="-1.7">3</tspan></text>
<text x="506.90" y="164.60" class="xl">10<tspan class="sup" dx="0.1" dy="-1.7">4</tspan></text>
<text x="324.85" y="236.75" class="yl">0</text>
<text x="324.85" y="226.20" class="yl">20</text>
<text x="324.85" y="215.65" class="yl">40</text>
<text x="324.85" y="205.10" class="yl">60</text>
<text x="324.85" y="194.55" class="yl">80</text>
<text x="324.85" y="184.00" class="yl">100</text>
<text x="324.80" y="244.60" class="xl">10<tspan class="sup" dx="0.1" dy="-1.7">0</tspan></text>
<text x="338.25" y="244.60" class="xl">10<tspan class="sup" dx="0.1" dy="-1.7">1</tspan></text>
<text x="351.70" y="244.60" class="xl">10<tspan class="sup" dx="0.1" dy="-1.7">2</tspan></text>
<text x="365.15" y="244.60" class="xl">10<tspan class="sup" dx="0.1" dy="-1.7">3</tspan></text>
<text x="378.60" y="244.60" class="xl">10<tspan class="sup" dx="0.1" dy="-1.7">4</tspan></text>
<text x="452.95" y="236.75" class="yl">0</text>
<text x="452.95" y="226.20" class="yl">20</text>
<text x="452.95" y="215.65" class="yl">40</text>
<text x="452.95" y="205.10" class="yl">60</text>
<text x="452.95" y="194.55" class="yl">80</text>
<text x="452.95" y="184.00" class="yl">100</text>
<text x="453.10" y="244.60" class="xl">10<tspan class="sup" dx="0.1" dy="-1.7">0</tspan></text>
<text x="466.55" y="244.60" class="xl">10<tspan class="sup" dx="0.1" dy="-1.7">1</tspan></text>
<text x="480.00" y="244.60" class="xl">10<tspan class="sup" dx="0.1" dy="-1.7">2</tspan></text>
<text x="493.45" y="244.60" class="xl">10<tspan class="sup" dx="0.1" dy="-1.7">3</tspan></text>
<text x="506.90" y="244.60" class="xl">10<tspan class="sup" dx="0.1" dy="-1.7">4</tspan></text>
<text x="324.85" y="322.25" class="yl">0</text>
<text x="324.85" y="311.70" class="yl">20</text>
<text x="324.85" y="301.15" class="yl">40</text>
<text x="324.85" y="290.60" class="yl">60</text>
<text x="324.85" y="280.05" class="yl">80</text>
<text x="324.85" y="269.50" class="yl">100</text>
<text x="324.80" y="330.10" class="xl">10<tspan class="sup" dx="0.1" dy="-1.7">0</tspan></text>
<text x="338.25" y="330.10" class="xl">10<tspan class="sup" dx="0.1" dy="-1.7">1</tspan></text>
<text x="351.70" y="330.10" class="xl">10<tspan class="sup" dx="0.1" dy="-1.7">2</tspan></text>
<text x="365.15" y="330.10" class="xl">10<tspan class="sup" dx="0.1" dy="-1.7">3</tspan></text>
<text x="378.60" y="330.10" class="xl">10<tspan class="sup" dx="0.1" dy="-1.7">4</tspan></text>
<text x="452.95" y="322.25" class="yl">0</text>
<text x="452.95" y="311.70" class="yl">20</text>
<text x="452.95" y="301.15" class="yl">40</text>
<text x="452.95" y="290.60" class="yl">60</text>
<text x="452.95" y="280.05" class="yl">80</text>
<text x="452.95" y="269.50" class="yl">100</text>
<text x="453.10" y="330.10" class="xl">10<tspan class="sup" dx="0.1" dy="-1.7">0</tspan></text>
<text x="466.55" y="330.10" class="xl">10<tspan class="sup" dx="0.1" dy="-1.7">1</tspan></text>
<text x="480.00" y="330.10" class="xl">10<tspan class="sup" dx="0.1" dy="-1.7">2</tspan></text>
<text x="493.45" y="330.10" class="xl">10<tspan class="sup" dx="0.1" dy="-1.7">3</tspan></text>
<text x="506.90" y="330.10" class="xl">10<tspan class="sup" dx="0.1" dy="-1.7">4</tspan></text>
<line x1="334.2" y1="366.1" x2="360.7" y2="366.1" stroke="#000" stroke-width="1.8"/>
<line x1="334.4" y1="386.2" x2="360" y2="386.2" stroke="#555" stroke-width="1.4" stroke-dasharray="1.6 2.38"/>
<text x="59.90" y="10.00" font-size="11.5" textLength="47.6" lengthAdjust="spacingAndGlyphs" transform="translate(0,0.45)">anti-HEL</text>
<text x="175.00" y="10.00" font-size="11.5" textLength="44.4" lengthAdjust="spacingAndGlyphs" transform="translate(0,0.45)">anti-IgG</text>
<text x="327.50" y="10.00" font-size="11.5" textLength="47.1" lengthAdjust="spacingAndGlyphs" transform="translate(0,0.45)">anti-HEL</text>
<text x="456.40" y="10.00" font-size="11.5" textLength="44.8" lengthAdjust="spacingAndGlyphs" transform="translate(0,0.45)">anti-IgG</text>
<text x="2.00" y="49.20" font-size="14" textLength="28.9" lengthAdjust="spacingAndGlyphs">GD7</text>
<text x="2.20" y="129.10" font-size="14" textLength="23.7" lengthAdjust="spacingAndGlyphs">2F4</text>
<text x="2.00" y="202.70" font-size="14" textLength="25.4" lengthAdjust="spacingAndGlyphs">4B7</text>
<text x="2.00" y="298.80" font-size="14" textLength="25.4" lengthAdjust="spacingAndGlyphs">5B9</text>
<text x="2.20" y="373.80" font-size="14" textLength="24.1" lengthAdjust="spacingAndGlyphs">6F7</text>
<text x="265.80" y="49.00" font-size="14" textLength="32.8" lengthAdjust="spacingAndGlyphs">8E12</text>
<text x="266.30" y="129.20" font-size="14" textLength="26.7" lengthAdjust="spacingAndGlyphs">6D7</text>
<text x="266.50" y="299.00" font-size="14" textLength="38.4" lengthAdjust="spacingAndGlyphs">No ab</text>
<text x="255.30" y="202.60" font-size="9.4" textLength="46.7" lengthAdjust="spacingAndGlyphs" class="cb">Combined</text>
<text x="255.30" y="214.90" font-size="9.4" textLength="49.0" lengthAdjust="spacingAndGlyphs" class="cb">antibodies</text>
<text x="376.60" y="371.30" font-size="11" textLength="57.4" lengthAdjust="spacingAndGlyphs">mHEL RBC</text>
<text x="377.00" y="390.60" font-size="11" textLength="72.9" lengthAdjust="spacingAndGlyphs">C57BL/6 RBC</text>
</svg>
</body></html>
